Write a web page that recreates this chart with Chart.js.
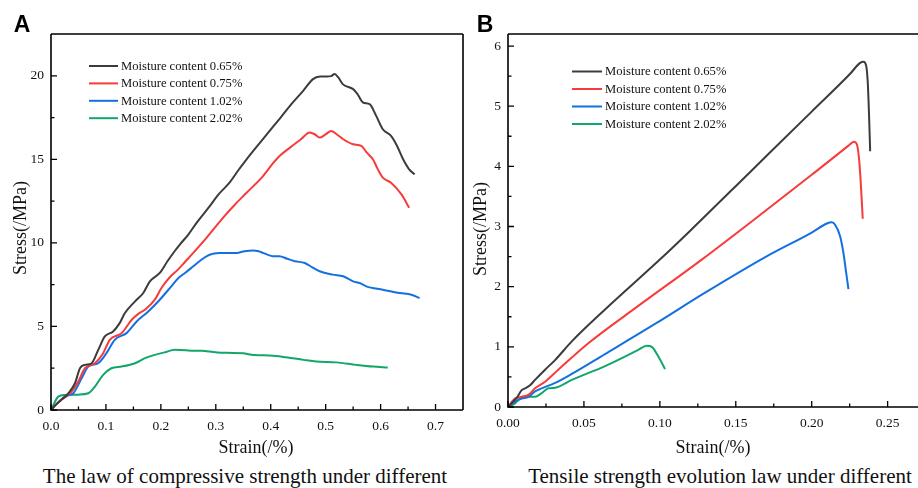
<!DOCTYPE html>
<html>
<head>
<meta charset="utf-8">
<script src="https://cdn.jsdelivr.net/npm/chart.js@4/dist/chart.umd.min.js"></script>
<style>
body { margin: 0; width: 918px; height: 488px; overflow: hidden; background: #fff; position: relative; font-family: "Liberation Serif", "Times New Roman", serif; color: #111; }
canvas { position: absolute; }
.c { position: absolute; white-space: nowrap; line-height: 1; transform: translate(-50%, -50%); }
.rot { transform: translate(-50%, -50%) rotate(-90deg); }
.lbl { font-family: "Liberation Sans", Arial, sans-serif; font-weight: bold; font-size: 23px; color: #000; }
.ax { font-size: 18px; }
.cap { font-size: 21px; }
</style>
</head>
<body>
<canvas id="chartA" width="470" height="440" style="left:0;top:0"></canvas>
<canvas id="chartB" width="468" height="437" style="left:450px;top:0"></canvas>

<div class="c lbl" style="left:22px;top:24px">A</div>
<div class="c lbl" style="left:485px;top:24px">B</div>
<div class="c ax rot" style="left:20px;top:228px">Stress(/MPa)</div>
<div class="c ax rot" style="left:480px;top:229px">Stress(/MPa)</div>
<div class="c ax" style="left:256px;top:447px">Strain(/%)</div>
<div class="c ax" style="left:713px;top:447px">Strain(/%)</div>
<div class="c cap" style="left:245px;top:476px">The law of compressive strength under different</div>
<div class="c cap" style="left:720px;top:476px">Tensile strength evolution law under different</div>

<script>
// series labels and colours
const seriesLabels = ['Moisture content 0.65%', 'Moisture content 0.75%', 'Moisture content 1.02%', 'Moisture content 2.02%'];
const seriesColors = ['#3c3c3c', '#f73b3b', '#1470e0', '#12a66a'];

// A: compressive stress-strain curves
const compStrain065 = [0, 0.01, 0.02, 0.0315, 0.0436, 0.0527, 0.0618, 0.074, 0.086, 0.098, 0.113, 0.125, 0.1345, 0.153, 0.168, 0.18, 0.198, 0.212, 0.225, 0.2345, 0.25, 0.265, 0.289, 0.305, 0.325, 0.34, 0.356, 0.378, 0.398, 0.418, 0.435, 0.459, 0.477, 0.49, 0.501, 0.51, 0.516, 0.523, 0.531, 0.55, 0.558, 0.568, 0.58, 0.592, 0.604, 0.619, 0.63, 0.641, 0.652, 0.662];
const compStress065 = [0, 0.35, 0.65, 1.0, 1.6, 2.5, 2.7, 2.8, 3.6, 4.4, 4.7, 5.2, 5.8, 6.5, 7.0, 7.7, 8.2, 8.9, 9.5, 9.9, 10.5, 11.2, 12.2, 12.9, 13.6, 14.3, 15.0, 15.9, 16.7, 17.5, 18.2, 19.1, 19.8, 19.95, 19.96, 19.98, 20.1, 19.9, 19.5, 19.2, 18.9, 18.4, 18.3, 17.6, 16.8, 16.4, 15.8, 15.0, 14.4, 14.1];

const compStrain075 = [0, 0.01, 0.02, 0.03, 0.0376, 0.0497, 0.0618, 0.07, 0.08, 0.095, 0.107, 0.1285, 0.147, 0.159, 0.171, 0.189, 0.201, 0.215, 0.231, 0.245, 0.259, 0.283, 0.313, 0.335, 0.356, 0.386, 0.405, 0.416, 0.435, 0.455, 0.471, 0.48, 0.489, 0.5, 0.51, 0.52, 0.532, 0.55, 0.565, 0.575, 0.586, 0.595, 0.604, 0.619, 0.638, 0.652];
const compStress075 = [0, 0.35, 0.65, 0.9, 1.1, 1.7, 2.5, 2.65, 2.8, 3.4, 4.2, 4.6, 5.4, 5.75, 6.0, 6.6, 7.3, 7.9, 8.4, 8.9, 9.4, 10.3, 11.5, 12.3, 13.0, 14.0, 14.8, 15.2, 15.7, 16.2, 16.6, 16.5, 16.3, 16.5, 16.7, 16.5, 16.2, 15.9, 15.8, 15.4, 15.0, 14.4, 13.9, 13.6, 12.9, 12.1];

const compStrain102 = [0, 0.01, 0.02, 0.03, 0.0406, 0.0558, 0.068, 0.086, 0.101, 0.116, 0.1376, 0.156, 0.177, 0.198, 0.219, 0.232, 0.244, 0.259, 0.272, 0.283, 0.295, 0.307, 0.338, 0.352, 0.368, 0.378, 0.386, 0.404, 0.416, 0.43, 0.444, 0.462, 0.475, 0.489, 0.513, 0.532, 0.55, 0.562, 0.574, 0.604, 0.635, 0.656, 0.671];
const compStress102 = [0, 0.35, 0.65, 0.85, 1.0, 1.9, 2.6, 2.8, 3.4, 4.2, 4.6, 5.3, 5.9, 6.6, 7.4, 7.9, 8.2, 8.6, 8.95, 9.2, 9.35, 9.4, 9.4, 9.5, 9.55, 9.5, 9.4, 9.2, 9.2, 9.05, 8.9, 8.8, 8.55, 8.3, 8.1, 8.0, 7.7, 7.6, 7.4, 7.2, 7.0, 6.9, 6.7];

const compStrain202 = [0, 0.0133, 0.0255, 0.0497, 0.068, 0.08, 0.095, 0.11, 0.1285, 0.153, 0.171, 0.189, 0.207, 0.225, 0.245, 0.259, 0.275, 0.289, 0.319, 0.35, 0.365, 0.404, 0.44, 0.46, 0.483, 0.519, 0.556, 0.586, 0.613];
const compStress202 = [0, 0.8, 0.9, 0.92, 1.0, 1.4, 2.1, 2.5, 2.6, 2.8, 3.1, 3.3, 3.45, 3.6, 3.58, 3.55, 3.55, 3.5, 3.42, 3.4, 3.3, 3.25, 3.1, 3.0, 2.9, 2.85, 2.7, 2.6, 2.55];

// B: tensile stress-strain curves
const tensStrain065 = [0, 0.003, 0.006, 0.009, 0.0112, 0.0145, 0.0178, 0.0244, 0.031, 0.042, 0.0639, 0.1, 0.12, 0.16, 0.2, 0.225, 0.2319, 0.2341, 0.2358, 0.2369, 0.2377, 0.2385];
const tensStress065 = [0, 0.08, 0.16, 0.28, 0.31, 0.36, 0.45, 0.62, 0.78, 1.09, 1.62, 2.45, 2.93, 3.92, 4.91, 5.53, 5.72, 5.74, 5.68, 5.4, 4.9, 4.25];

const tensStrain075 = [0, 0.0046, 0.009, 0.0134, 0.0178, 0.0244, 0.0331, 0.0529, 0.0858, 0.1276, 0.17, 0.2, 0.224, 0.2264, 0.2279, 0.2297, 0.2312, 0.2323, 0.2336];
const tensStress075 = [0, 0.14, 0.17, 0.2, 0.31, 0.42, 0.62, 1.06, 1.68, 2.45, 3.27, 3.86, 4.34, 4.39, 4.41, 4.37, 4.12, 3.73, 3.13];

const tensStrain102 = [0, 0.0046, 0.009, 0.0134, 0.0178, 0.0222, 0.031, 0.042, 0.0639, 0.0968, 0.1298, 0.17, 0.2, 0.21, 0.2132, 0.2154, 0.2187, 0.2209, 0.2227, 0.2242];
const tensStress102 = [0, 0.09, 0.14, 0.17, 0.26, 0.31, 0.4, 0.55, 0.88, 1.38, 1.9, 2.5, 2.9, 3.05, 3.07, 3.03, 2.84, 2.56, 2.23, 1.96];

const tensStrain202 = [0, 0.0046, 0.0079, 0.0134, 0.0178, 0.0222, 0.0266, 0.031, 0.042, 0.0639, 0.0858, 0.0914, 0.0947, 0.099, 0.1034];
const tensStress202 = [0, 0.06, 0.14, 0.17, 0.17, 0.23, 0.31, 0.32, 0.45, 0.68, 0.95, 1.02, 1.0, 0.84, 0.63];

const tickFont = { family: 'Liberation Serif', size: 13.5 };

function points(xs, ys) {
    return xs.map((x, i) => ({ x: x, y: ys[i] }));
}

function makeSets(pairs) {
    return pairs.map((p, i) => ({
        label: seriesLabels[i],
        data: points(p[0], p[1]),
        borderColor: seriesColors[i],
        borderWidth: 2,
        pointRadius: 0,
        cubicInterpolationMode: 'monotone',
        fill: false
    }));
}

// box, inward ticks and legend drawn inside the plot
const framePlugin = {
    id: 'frame',
    afterDraw(chart, args, opts) {
        const { ctx, chartArea: a } = chart;
        const xs = chart.scales.x, ys = chart.scales.y;
        ctx.save();
        ctx.strokeStyle = '#000';
        ctx.lineWidth = 1.6;
        ctx.beginPath();
        ctx.moveTo(a.left, a.top); ctx.lineTo(a.left, a.bottom); ctx.lineTo(a.right, a.bottom);
        ctx.moveTo(a.left, a.top); ctx.lineTo(a.right, a.top);
        if (opts.right) { ctx.moveTo(a.right, a.top); ctx.lineTo(a.right, a.bottom); }
        ctx.stroke();

        ctx.lineWidth = 1.3;
        ctx.beginPath();
        for (let v = 0; v <= xs.max + 1e-9; v += opts.xMinor) {
            const px = xs.getPixelForValue(v);
            if (px >= a.right - 1) break;
            const major = Math.abs(v / opts.xMajor - Math.round(v / opts.xMajor)) < 1e-6;
            ctx.moveTo(px, a.bottom); ctx.lineTo(px, a.bottom - (major ? 6 : 3.5));
        }
        for (let v = 0; v <= ys.max + 1e-9; v += opts.yMinor) {
            const py = ys.getPixelForValue(v);
            if (py <= a.top + 1) break;
            const major = Math.abs(v / opts.yMajor - Math.round(v / opts.yMajor)) < 1e-6;
            ctx.moveTo(a.left, py); ctx.lineTo(a.left + (major ? 6 : 3.5), py);
        }
        ctx.stroke();

        // legend
        const lg = opts.legend;
        ctx.font = '12.6px "Liberation Serif"';
        ctx.textBaseline = 'middle';
        ctx.fillStyle = '#111';
        chart.data.datasets.forEach((ds, i) => {
            const y = lg.y + i * lg.dy;
            ctx.strokeStyle = ds.borderColor;
            ctx.lineWidth = 2;
            ctx.beginPath();
            ctx.moveTo(lg.x, y); ctx.lineTo(lg.x + lg.w, y);
            ctx.stroke();
            ctx.fillText(ds.label, lg.x + lg.w + 3, y + 0.5);
        });
        ctx.restore();
    }
};

function makeChart(id, sets, o) {
    return new Chart(document.getElementById(id), {
        type: 'line',
        data: { datasets: sets },
        options: {
            responsive: false,
            animation: false,
            layout: { padding: { top: 34, right: o.padRight, left: 0, bottom: 0 } },
            plugins: { legend: { display: false }, tooltip: { enabled: false }, frame: o.frame },
            scales: {
                x: {
                    type: 'linear', min: 0, max: o.xMax,
                    grid: { display: false, drawTicks: false }, border: { display: false },
                    ticks: { stepSize: o.frame.xMajor, includeBounds: false, padding: 8, font: tickFont, color: '#111', maxRotation: 0,
                        callback: v => v.toFixed(o.xDigits) },
                    afterFit: s => { s.height = 30; }
                },
                y: {
                    type: 'linear', min: 0, max: o.yMax,
                    grid: { display: false, drawTicks: false }, border: { display: false },
                    ticks: { stepSize: o.frame.yMajor, includeBounds: false, padding: 7, font: tickFont, color: '#111',
                        callback: v => String(Math.round(v)) },
                    afterFit: s => { s.width = o.yWidth; }
                }
            }
        },
        plugins: [framePlugin]
    });
}

makeChart('chartA', makeSets([
    [compStrain065, compStress065], [compStrain075, compStress075],
    [compStrain102, compStress102], [compStrain202, compStress202]
]), {
    xMax: 0.75, yMax: 22.5, xDigits: 1, yWidth: 51, padRight: 7,
    frame: { xMajor: 0.1, xMinor: 0.05, yMajor: 5, yMinor: 2.5, right: true,
        legend: { x: 89, w: 29, y: 66, dy: 17.4 } }
});

makeChart('chartB', makeSets([
    [tensStrain065, tensStress065], [tensStrain075, tensStress075],
    [tensStrain102, tensStress102], [tensStrain202, tensStress202]
]), {
    xMax: 0.27, yMax: 6.2, xDigits: 2, yWidth: 58, padRight: 0,
    frame: { xMajor: 0.05, xMinor: 0.025, yMajor: 1, yMinor: 0.5, right: false,
        legend: { x: 122, w: 30, y: 71.5, dy: 17.5 } }
});
</script>
</body>
</html>
